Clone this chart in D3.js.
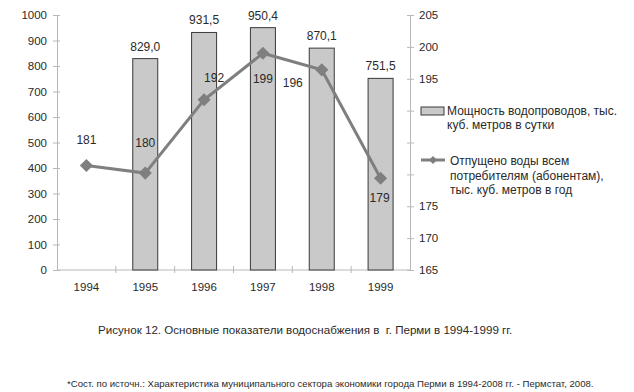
<!DOCTYPE html>
<html>
<head>
<meta charset="utf-8">
<script src="https://cdn.jsdelivr.net/npm/d3@7"></script>
<style>
    body { margin: 0; background: #fff; }
    svg { font-family: "Liberation Sans", Arial, sans-serif; }
    .axis path, .axis line { stroke: #b8b8b8; }
    .axis text { fill: #2a2a2a; font-size: 11.5px; }
</style>
</head>
<body>
<div id="chart"></div>
<script>
// chart data
var years = ['1994', '1995', '1996', '1997', '1998', '1999'];
var capacity = [null, 829.0, 931.5, 950.4, 870.1, 751.5];
var capacityLabels = ['', '829,0', '931,5', '950,4', '870,1', '751,5'];
var supplied = [181.4, 180.2, 191.7, 199.0, 196.4, 179.4];
var suppliedLabels = ['181', '180', '192', '199', '196', '179'];
var leftTicks = [0, 100, 200, 300, 400, 500, 600, 700, 800, 900, 1000];
var rightTicks = [165, 170, 175, 180, 185, 190, 195, 200, 205];
var legendBar = ['Мощность водопроводов, тыс.', 'куб. метров в сутки'];
var legendLine = ['Отпущено воды всем', 'потребителям (абонентам),', 'тыс. куб. метров в год'];
var caption = 'Рисунок 12. Основные показатели водоснабжения в  г. Перми в 1994-1999 гг.';
var footnote = '*Сост. по источн.: Характеристика муниципального сектора экономики города Перми в 1994-2008 гг. - Пермстат, 2008.';

// where the line labels sit relative to their markers
var lineLabelOffset = [[0, -21], [0, -26], [10, -18], [0, 30], [-29, 17], [-1, 24]];

var width = 634, height = 392;
var plot = {left: 57, right: 410, top: 15, bottom: 270};

var svg = d3.select('#chart').append('svg')
    .attr('width', width)
    .attr('height', height);

var x = d3.scaleBand()
    .domain(years)
    .range([plot.left, plot.right])
    .paddingInner(0)
    .paddingOuter(0);
var yLeft = d3.scaleLinear().domain([0, 1000]).range([plot.bottom, plot.top]);
var yRight = d3.scaleLinear().domain([165, 205]).range([plot.bottom, plot.top]);
var barWidth = 25;

// axes
var leftAxis = svg.append('g')
    .attr('class', 'axis')
    .attr('transform', 'translate(' + plot.left + ',0)')
    .call(d3.axisLeft(yLeft).tickValues(leftTicks).tickFormat(d3.format('d'))
        .tickSize(4).tickSizeOuter(0).tickPadding(6));
leftAxis.selectAll('.tick line').attr('x2', 3).attr('x1', -4);

var rightAxis = svg.append('g')
    .attr('class', 'axis')
    .attr('transform', 'translate(' + plot.right + ',0)')
    .call(d3.axisRight(yRight).tickValues(rightTicks).tickSize(4).tickSizeOuter(0).tickPadding(5));
rightAxis.selectAll('.tick line').attr('x1', -3).attr('x2', 4);

var bottomAxis = svg.append('g')
    .attr('class', 'axis')
    .attr('transform', 'translate(0,' + plot.bottom + ')');
bottomAxis.append('line')
    .attr('x1', plot.left).attr('x2', plot.right)
    .attr('stroke', '#b8b8b8');
bottomAxis.selectAll('.xtick')
    .data(years.slice(1))
    .enter().append('line')
    .attr('x1', function (d) { return x(d); })
    .attr('x2', function (d) { return x(d); })
    .attr('y1', -4).attr('y2', 3)
    .attr('stroke', '#b8b8b8');
bottomAxis.selectAll('.xlabel')
    .data(years)
    .enter().append('text')
    .attr('x', function (d) { return x(d) + x.bandwidth() / 2; })
    .attr('y', 21)
    .attr('text-anchor', 'middle')
    .text(function (d) { return d; });

// bars
var barData = years.map(function (d, i) {
    return {year: d, value: capacity[i], label: capacityLabels[i]};
}).filter(function (d) { return d.value !== null; });

svg.selectAll('.bar')
    .data(barData)
    .enter().append('rect')
    .attr('class', 'bar')
    .attr('x', function (d) { return x(d.year) + (x.bandwidth() - barWidth) / 2; })
    .attr('y', function (d) { return yLeft(d.value); })
    .attr('width', barWidth)
    .attr('height', function (d) { return plot.bottom - yLeft(d.value); })
    .attr('fill', '#c9c9c9')
    .attr('stroke', '#3a3a3a')
    .attr('stroke-width', 1);

svg.selectAll('.bar-label')
    .data(barData)
    .enter().append('text')
    .attr('x', function (d) { return x(d.year) + x.bandwidth() / 2; })
    .attr('y', function (d) { return yLeft(d.value) - 8; })
    .attr('text-anchor', 'middle')
    .attr('font-size', '12px')
    .attr('fill', '#2a2a2a')
    .text(function (d) { return d.label; });

// line
var lineData = years.map(function (d, i) {
    return {year: d, value: supplied[i], label: suppliedLabels[i], off: lineLabelOffset[i]};
});
var line = d3.line()
    .x(function (d) { return x(d.year) + x.bandwidth() / 2; })
    .y(function (d) { return yRight(d.value); });

svg.append('path')
    .datum(lineData)
    .attr('d', line)
    .attr('fill', 'none')
    .attr('stroke', '#7f7f7f')
    .attr('stroke-width', 3);

var diamond = d3.symbol().type(d3.symbolDiamond2).size(110);
svg.selectAll('.marker')
    .data(lineData)
    .enter().append('path')
    .attr('d', diamond)
    .attr('transform', function (d) {
        return 'translate(' + (x(d.year) + x.bandwidth() / 2) + ',' + yRight(d.value) + ')';
    })
    .attr('fill', '#7f7f7f');

svg.selectAll('.line-label')
    .data(lineData)
    .enter().append('text')
    .attr('x', function (d) { return x(d.year) + x.bandwidth() / 2 + d.off[0]; })
    .attr('y', function (d) { return yRight(d.value) + d.off[1]; })
    .attr('text-anchor', 'middle')
    .attr('font-size', '12px')
    .attr('fill', '#2a2a2a')
    .text(function (d) { return d.label; });

// legend, its white box hides the right axis labels behind it
var legend = svg.append('g').attr('font-size', '12px').attr('fill', '#2a2a2a');
legend.append('rect')
    .attr('x', 416).attr('y', 98)
    .attr('width', 218).attr('height', 104)
    .attr('fill', '#fff');
legend.append('rect')
    .attr('x', 421).attr('y', 107)
    .attr('width', 23).attr('height', 8)
    .attr('fill', '#c9c9c9')
    .attr('stroke', '#3a3a3a');
legend.selectAll('.lb')
    .data(legendBar)
    .enter().append('text')
    .attr('x', 447)
    .attr('y', function (d, i) { return 115 + i * 14; })
    .text(function (d) { return d; });

legend.append('line')
    .attr('x1', 421).attr('x2', 445)
    .attr('y1', 160).attr('y2', 160)
    .attr('stroke', '#7f7f7f').attr('stroke-width', 3);
legend.append('path')
    .attr('d', d3.symbol().type(d3.symbolDiamond2).size(40))
    .attr('transform', 'translate(433,160)')
    .attr('fill', '#7f7f7f');
legend.selectAll('.ll')
    .data(legendLine)
    .enter().append('text')
    .attr('x', 450)
    .attr('y', function (d, i) { return 165 + i * 14.5; })
    .text(function (d) { return d; });

// caption and source
svg.append('text')
    .attr('x', 98).attr('y', 334)
    .attr('font-size', '11.6px')
    .attr('fill', '#2a2a2a')
    .style('white-space', 'pre')
    .text(caption);
svg.append('text')
    .attr('x', 67).attr('y', 387)
    .attr('font-size', '9.6px')
    .attr('fill', '#2a2a2a')
    .text(footnote);
</script>
</body>
</html>
